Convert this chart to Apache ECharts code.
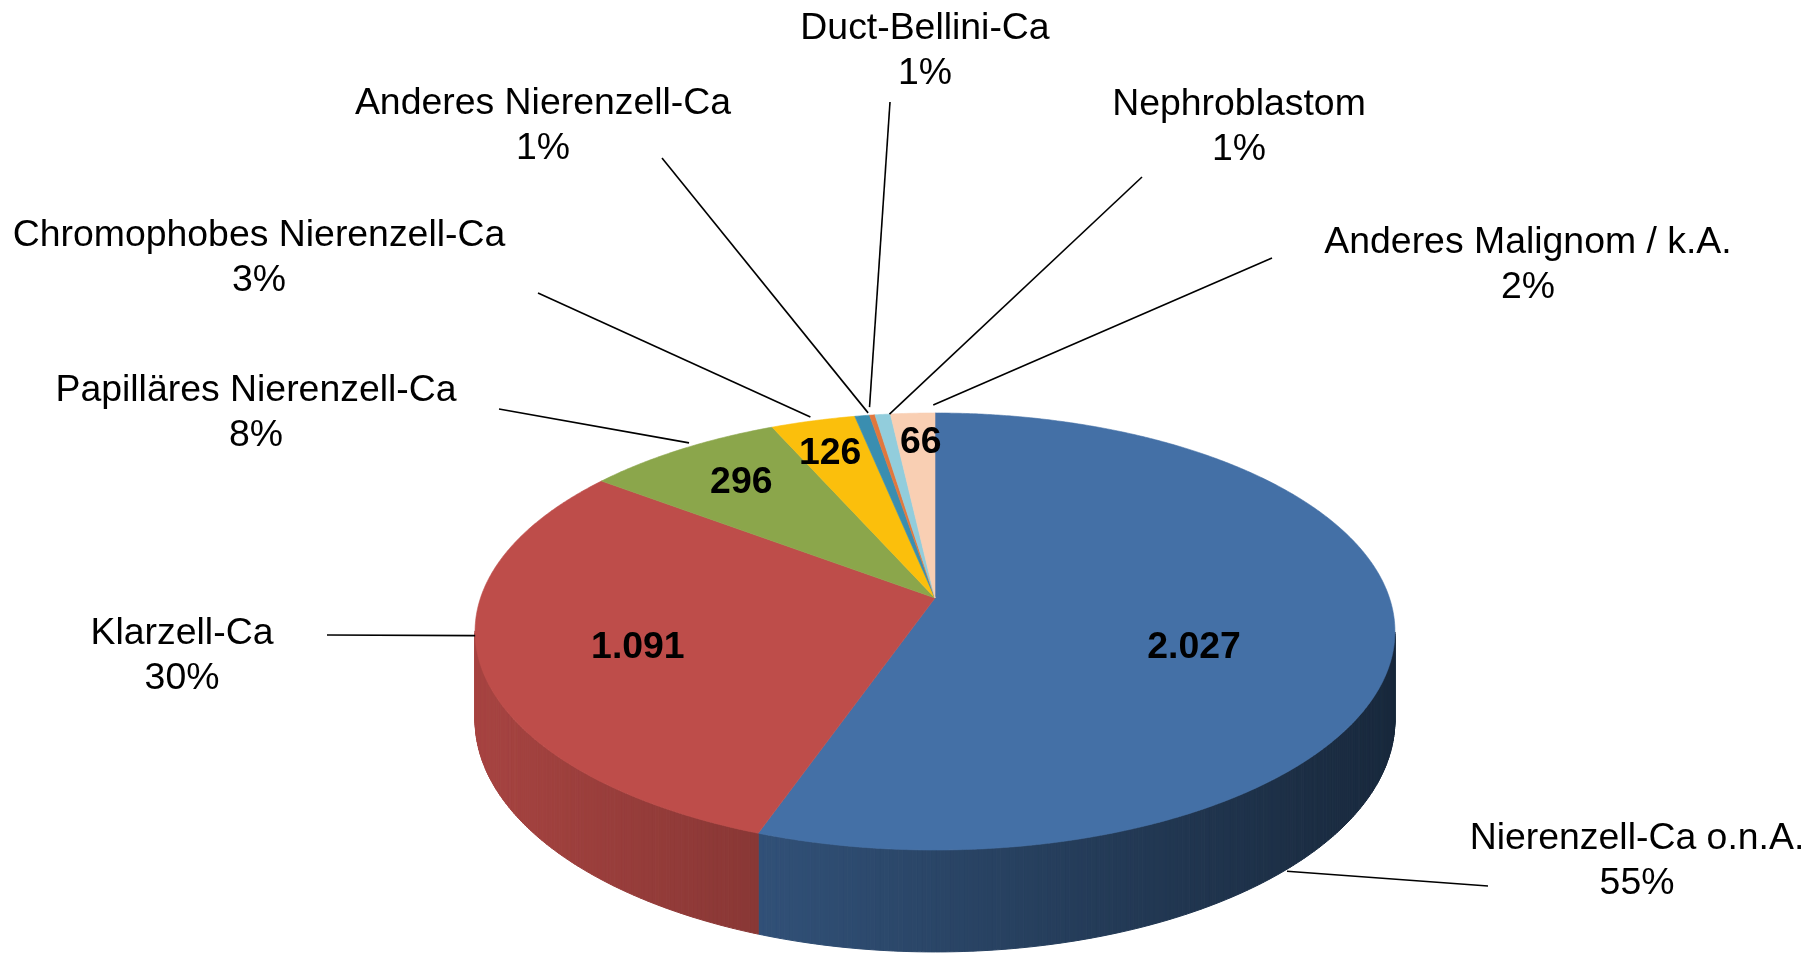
<!DOCTYPE html>
<html>
<head>
<meta charset="utf-8">
<script src="https://cdn.jsdelivr.net/npm/echarts@6/dist/echarts.min.js"></script>
<style>
html,body{margin:0;padding:0;background:#ffffff;}
#chart{width:1816px;height:954px;}
</style>
</head>
<body>
<div id="chart"></div>
<script>
// ---------- DATA ----------
const categories = [
  'Nierenzell-Ca o.n.A.',
  'Klarzell-Ca',
  'Papilläres Nierenzell-Ca',
  'Chromophobes Nierenzell-Ca',
  'Anderes Nierenzell-Ca',
  'Duct-Bellini-Ca',
  'Nephroblastom',
  'Anderes Malignom / k.A.'
];
const values = [2027, 1091, 296, 126, 22, 8, 23, 66];
const valueLabels = ['2.027', '1.091', '296', '126', '', '', '', '66'];
const percentLabels = ['55%', '30%', '8%', '3%', '1%', '1%', '1%', '2%'];

// ---------- STYLE / LAYOUT ----------
const sliceColors = ['#4470A6', '#BE4D4A', '#8BA64B', '#FBBF0C', '#3A8EB0', '#E2773D', '#92CDDC', '#F9CFB3'];
const FONT = '"Liberation Sans", Arial, Helvetica, sans-serif';
const FONT_SIZE = 37.4;
const TEXT_DY = 3.5;
// perspective projection of the pie disk
const PIE = { cx: 935, y0: 598, b: -121.7, c: 0.1533, k: 454.5, depth: 86.3 };
// outer label centres (middle of two-line block)
const outerLabelPos = [[1637, 858], [182, 653], [256, 410], [259, 255], [543, 123], [925, 48], [1239, 124], [1528, 262]];
const leaderEnd = [[1488, 886], [327, 635], [499, 409], [538, 293], [662, 158], [890, 102], [1142, 177], [1272, 258]];
// leader anchors on the pie: angle offset from slice middle (or absolute angle), radius, height fraction
const leaderAnchor = [
  { abs: 136.5, r: 1, h: 1.02 }, { d: 7, r: 1, h: 0 }, { d: 2, r: 1.02, h: 0 }, { d: 0, r: 1.025, h: 0 },
  { d: 1, r: 1.015, h: 0 }, { d: 0, r: 1.05, h: 0 }, { d: 1, r: 1.0, h: 0 }, { d: 3, r: 1.05, h: 0 }
];
const innerLabelAnchor = [
  { d: 11, r: 0.59 }, { d: -1.6, r: 0.667 }, { d: 1.3, r: 0.768 }, { d: -0.5, r: 0.818 },
  null, null, null, { d: 0.85, r: 0.842 }
];

// ---------- GEOMETRY ----------
const total = values.reduce((s, v) => s + v, 0);
const startAngles = [], endAngles = [];
(function () {
  let acc = 0;
  values.forEach(v => {
    startAngles.push(acc / total * 360);
    acc += v;
    endAngles.push(acc / total * 360);
  });
})();

function proj(deg, r, h) {
  const t = deg * Math.PI / 180;
  const U = r * Math.sin(t), V = r * Math.cos(t);
  const d = 1 + PIE.c * V;
  return [PIE.cx + PIE.k * U / d, (PIE.y0 + PIE.b * V + PIE.depth * h) / d];
}
function shade(hex, f) {
  const n = parseInt(hex.slice(1), 16);
  const r = Math.round(((n >> 16) & 255) * f), g = Math.round(((n >> 8) & 255) * f), b = Math.round((n & 255) * f);
  return 'rgb(' + r + ',' + g + ',' + b + ')';
}
function sideFactor(x) {
  return Math.max(0.3, Math.min(1, 0.87 - 0.00056 * (x - 490)));
}
function quadArea(p) {
  let s = 0;
  for (let i = 0; i < p.length; i++) {
    const a = p[i], b = p[(i + 1) % p.length];
    s += a[0] * b[1] - b[0] * a[1];
  }
  return s;
}
const refSign = Math.sign(quadArea([proj(180, 1, 0), proj(181, 1, 0), proj(181, 1, 1), proj(180, 1, 1)]));

// ---------- RENDERERS ----------
function renderSides(params, api) {
  const i = params.dataIndex;
  const a0 = startAngles[i], a1 = endAngles[i];
  const n = Math.max(1, Math.ceil((a1 - a0) / 0.5));
  const children = [];
  for (let s = 0; s < n; s++) {
    const t0 = a0 + (a1 - a0) * s / n, t1 = a0 + (a1 - a0) * (s + 1) / n;
    const q = [proj(t0, 1, 0), proj(t1, 1, 0), proj(t1, 1, 1), proj(t0, 1, 1)];
    if (Math.sign(quadArea(q)) !== refSign) continue;
    const xm = (q[0][0] + q[1][0]) / 2;
    const col = shade(sliceColors[i], sideFactor(xm));
    children.push({ type: 'polygon', shape: { points: q }, style: { fill: col, stroke: col, lineWidth: 1 } });
  }
  return { type: 'group', children: children };
}
function renderTops(params, api) {
  const i = params.dataIndex;
  const a0 = startAngles[i], a1 = endAngles[i];
  const n = Math.max(2, Math.ceil((a1 - a0) / 0.4));
  const pts = [[PIE.cx, PIE.y0]];
  for (let s = 0; s <= n; s++) pts.push(proj(a0 + (a1 - a0) * s / n, 1, 0));
  const col = sliceColors[i];
  return { type: 'polygon', shape: { points: pts }, style: { fill: col, stroke: col, lineWidth: 0.6 } };
}
function renderLabels(params, api) {
  const i = params.dataIndex;
  const mid = (startAngles[i] + endAngles[i]) / 2;
  const children = [];
  // leader line
  const la = leaderAnchor[i];
  const ang = la.abs !== undefined ? la.abs : mid + la.d;
  const p0 = proj(ang, la.r, la.h);
  const p1 = leaderEnd[i];
  children.push({ type: 'line', shape: { x1: p0[0], y1: p0[1], x2: p1[0], y2: p1[1] }, style: { stroke: '#000', lineWidth: 1.6 } });
  // outer label
  children.push({
    type: 'text',
    style: {
      text: categories[i] + '\n' + percentLabels[i],
      x: outerLabelPos[i][0], y: outerLabelPos[i][1] + TEXT_DY,
      align: 'center', verticalAlign: 'middle',
      fontSize: FONT_SIZE, fontFamily: FONT, fill: '#000', lineHeight: 45
    }
  });
  // inner value label
  const ia = innerLabelAnchor[i];
  if (ia && valueLabels[i]) {
    const p = proj(mid + ia.d, ia.r, 0);
    children.push({
      type: 'text',
      style: {
        text: valueLabels[i], x: p[0], y: p[1] + TEXT_DY,
        align: 'center', verticalAlign: 'middle',
        fontSize: FONT_SIZE, fontWeight: 'bold', fontFamily: FONT, fill: '#000'
      }
    });
  }
  return { type: 'group', children: children };
}

const seriesData = values.map((v, i) => ({ name: categories[i], value: v }));

const chart = echarts.init(document.getElementById('chart'), null, { renderer: 'canvas' });
chart.setOption({
  backgroundColor: '#ffffff',
  animation: false,
  series: [
    { type: 'custom', name: 'sides', coordinateSystem: 'none', renderItem: renderSides, data: seriesData, z: 1, silent: true },
    { type: 'custom', name: 'tops', coordinateSystem: 'none', renderItem: renderTops, data: seriesData, z: 2, silent: true },
    { type: 'custom', name: 'labels', coordinateSystem: 'none', renderItem: renderLabels, data: seriesData, z: 3, silent: true }
  ]
});
</script>
</body>
</html>
